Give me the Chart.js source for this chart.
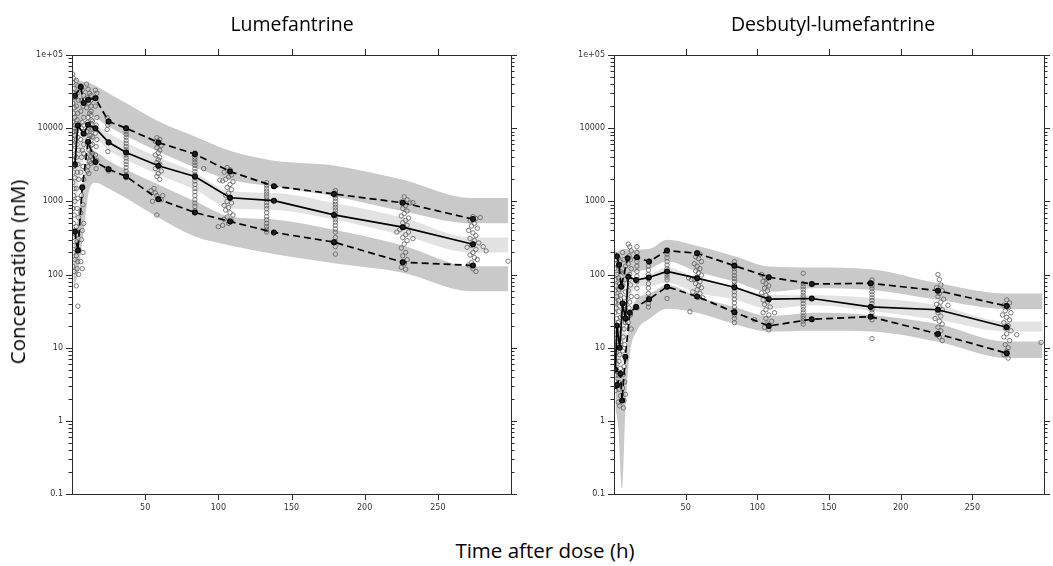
<!DOCTYPE html>
<html>
<head>
 <title>VPC lumefantrine / desbutyl-lumefantrine</title>
 <script src="https://cdn.jsdelivr.net/npm/chart.js"></script>
 <style>
  body { margin: 0; background: #fff; font-family: "Open Sans", sans-serif; }
  #wrap { position: relative; width: 1053px; height: 566px; overflow: hidden; }
  canvas { position: absolute; top: 0; }
  #c1 { left: 0; }
  #c2 { left: 542px; }
  .lbl { position: absolute; color: #000; white-space: nowrap; transform: translate(-50%, -50%); }
  .panel-title { font-size: 19.5px; top: 23px; }
  .axis-title { font-size: 20.5px; }
 </style>
</head>
<body>
<div id="wrap">
 <canvas id="c1" width="530" height="520"></canvas>
 <canvas id="c2" width="511" height="520"></canvas>
 <div class="lbl panel-title" style="left:292px">Lumefantrine</div>
 <div class="lbl panel-title" style="left:833px">Desbutyl-lumefantrine</div>
 <div class="lbl axis-title" style="left:545px; top:550px">Time after dose (h)</div>
 <div class="lbl axis-title" style="left:17px; top:272px; transform:translate(-50%,-50%) rotate(-90deg)">Concentration (nM)</div>
</div>

<script>
// axis labels
const xTickLabels = [50, 100, 150, 200, 250];
const yTickLabels = ['0.1', '1', '10', '100', '1000', '10000', '1e+05'];

// ---- Lumefantrine ----
// simulated prediction intervals (bands), per time
const lumeBandT   = [1, 4, 8, 12, 16, 25, 37, 59, 84, 108, 138, 179, 226, 273, 298];
const lumeUpperHi = [50000, 46000, 43000, 41000, 38000, 30000, 22000, 12400, 7700, 4900, 3600, 3100, 1970, 1107, 1107];
const lumeUpperLo = [6000, 9000, 13000, 15000, 14000, 10500, 7800, 4800, 2900, 1970, 1590, 1170, 730, 500, 500];
const lumeMedHi   = [2000, 5000, 8000, 10500, 10500, 8500, 6300, 4000, 2500, 1370, 1300, 950, 600, 320, 320];
const lumeMedLo   = [500, 1500, 4000, 7000, 7000, 5000, 3700, 2300, 1450, 800, 760, 565, 345, 200, 200];
const lumeLowerHi = [250, 600, 2000, 5000, 4800, 3600, 2700, 1700, 1000, 620, 565, 410, 250, 130, 130];
const lumeLowerLo = [70, 100, 400, 1500, 1800, 1500, 1100, 600, 330, 250, 190, 142, 106, 59, 59];

// observed percentiles
const lumeUpperT = [2, 6, 8, 11, 16, 25, 37, 59, 84, 108, 138, 179, 226, 274];
const lumeUpper  = [27700, 36500, 22000, 24500, 25700, 12350, 10000, 6370, 4430, 2560, 1610, 1260, 955, 572];
const lumeMedT   = [2, 4, 8, 11, 16, 25, 37, 59, 84, 108, 138, 179, 226, 274];
const lumeMed    = [3150, 10900, 8400, 11100, 10000, 6400, 4660, 3060, 2190, 1120, 1020, 653, 444, 259];
const lumeLowerT = [2, 4, 7, 11, 16, 25, 37, 59, 84, 108, 138, 179, 226, 274];
const lumeLower  = [383, 212, 1550, 6500, 3440, 2750, 2190, 1070, 703, 530, 376, 277, 147, 133];

// observations [time, conc]
const lumeObs = [
 [0.5,55000],[1,48000],[0.5,42000],[1.5,35000],[1,30000],[2,26000],[0.5,22000],[1.5,19000],[1,16000],[2,14000],
 [0.5,12000],[1.5,10000],[1,9000],[2,8000],[0.5,7000],[1.5,6000],[1,5000],[2,4200],[0.5,3600],[1.5,3000],
 [1,2500],[2,2100],[0.5,1800],[1.5,1500],[1,1200],[2,1000],[0.5,800],[1.5,650],[1,500],[2,400],
 [0.5,320],[1.5,250],[1,200],[2,160],[0.5,130],[1.5,110],[1,27000],[2,11000],[1,6500],[2,3300],
 [3,45000],[4,38000],[3.5,30000],[4.5,24000],[3,20000],[4,16000],[3.5,13000],[4.5,11000],[3,9000],[4,7500],
 [3.5,6000],[4.5,5000],[3,4000],[4,3200],[3.5,2500],[4.5,2000],[3,1500],[4,1100],[3.5,800],[4.5,600],
 [3,450],[4,350],[3.5,280],[4.5,220],[3,180],[4,150],[3.5,120],[4.5,100],[3,70],[4,37],
 [6,38000],[7,33000],[8,28000],[6.5,24000],[7.5,20000],[6,17000],[8,14000],[7,12000],[6.5,10000],[7.5,8500],
 [6,7000],[8,6000],[7,5000],[6.5,4000],[7.5,3000],[6,2500],[8,2000],[7,1600],[6.5,1200],[7.5,900],
 [6,700],[8,500],[7,400],[6.5,300],[7.5,200],[6,150],[7,120],[8,11000],[8,9000],[8,4500],
 [10,40000],[11,34000],[12,30000],[10.5,26000],[11.5,22000],[10,19000],[12,16000],[11,14000],[10.5,12000],[11.5,10000],
 [10,9000],[12,8000],[11,7000],[10.5,6000],[11.5,5000],[10,4000],[12,3500],[11,3000],[10.5,2600],[11.5,2400],
 [13,28000],[13,24000],[13,20000],[13,17000],[13,15000],[13,13000],[13,11500],[13,9500],[13,8000],[13,6800],
 [13,5800],[13,4800],[13,4100],[13,3300],[14,12500],[14,9800],[14,7600],[14,6000],[14,4500],[14,3800],
 [16,33000],[17,30000],[16.5,26000],[16,20000],[17,14000],[16.5,11000],[16,8500],[17,7000],[16.5,5600],[16,4300],
 [17,3600],[16.5,2800],
 [24,14000],[25,12500],[24.5,11000],[24,9600],[25,6300],[24.5,4800],[24,2800],[25,2600],
 [37,9800],[37,9000],[37,8200],[37,7500],[37,6800],[37,6200],[37,5600],[37,5100],[37,4700],[37,4300],
 [37,3900],[37,3500],[37,3200],[37,2900],[37,2600],[37,2300],[37,2100],
 [58,7400],[60,7000],[57,6600],[59,6200],[61,5800],[58,5400],[60,5000],[59,4600],[57,4300],[60,4000],
 [59,3700],[58,3400],[60,3200],[59,3000],[57,2800],[61,2600],[59,2400],[58,2200],[60,2000],[56,1500],
 [54,1400],[57,1300],[58,1200],[59,1100],[61,1050],[62,1200],[58,650],[55,1000],
 [84,4600],[84,4300],[84,4000],[84,3700],[84,3400],[84,3100],[84,2800],[84,2550],[84,2300],[84,2100],
 [84,1900],[84,1700],[84,1500],[84,1350],[84,1200],[84,1050],[84,950],[84,850],[84,750],[84,700],[90,2800],
 [106,2900],[108,2700],[104,2500],[109,2300],[107,2150],[105,2000],[110,1850],[103,1900],[101,1950],[108,1700],
 [106,1550],[109,1450],[107,1300],[105,1200],[108,1100],[106,1000],[109,950],[104,880],[107,820],[105,760],
 [108,700],[110,650],[106,610],[104,570],[109,540],[107,500],[103,470],[100,450],
 [133,1800],[133,1650],[133,1500],[133,1380],[133,1260],[133,1150],[133,1050],[133,960],[133,870],[133,790],
 [133,700],[133,620],[133,560],[133,500],[133,450],[133,410],[133,380],
 [180,1400],[180,1300],[180,1200],[180,1100],[180,1000],[180,910],[180,830],[180,760],[180,690],[180,630],
 [180,570],[180,520],[180,470],[180,420],[180,380],[180,320],[180,280],[180,240],[180,190],
 [227,1150],[229,1050],[225,980],[231,950],[228,880],[226,800],[229,740],[227,680],[225,630],[230,590],
 [228,550],[226,510],[229,470],[227,440],[224,410],[230,380],[228,350],[226,320],[229,290],[227,260],
 [225,230],[228,200],[226,180],[229,160],[227,140],[225,125],[228,118],[233,960],[233,310],[222,380],
 [274,620],[276,580],[272,540],[275,500],[273,460],[277,430],[271,400],[274,370],[276,340],[272,310],
 [275,290],[278,270],[273,250],[270,235],[276,220],[274,200],[272,185],[275,170],[277,160],[273,145],
 [271,135],[274,120],[276,110],[279,600],[281,240],[283,210],[298,152]
];

// ---- Desbutyl-lumefantrine ----
const desBandT   = [1, 3, 5.6, 8, 11, 16, 25, 37, 58, 84, 108, 140, 179, 226, 274, 299];
const desUpperHi = [190, 210, 220, 225, 217, 220, 225, 298, 245, 178, 129, 125, 118, 76, 55, 55];
const desUpperLo = [30, 40, 55, 70, 100, 110, 120, 150, 110, 80, 58, 65, 62, 45, 33.6, 33.6];
const desMedHi   = [15, 20, 25, 40, 75, 88, 100, 125, 89, 68, 53, 52, 48, 38, 22.7, 22.7];
const desMedLo   = [4, 6, 8, 15, 45, 66, 70, 77, 56, 46, 34, 38, 32, 24, 16.6, 16.6];
const desLowerHi = [6, 5, 4, 6, 25, 46, 55, 72, 50, 36, 27, 30, 28, 21, 12.1, 12.1];
const desLowerLo = [1.5, 0.8, 0.12, 1.5, 8, 17, 25, 34, 30, 21, 16.6, 17, 16.6, 12, 7.2, 7.2];

const desUpperT = [2, 3.5, 5, 9.5, 16, 24.5, 37, 58, 84, 108, 138, 179, 226, 274];
const desUpper  = [178, 136, 68, 167, 172, 150, 212, 195, 132, 92, 74, 76, 60, 37];
const desMedT   = [1, 2, 4, 6, 8, 10, 15.4, 24.3, 37, 58, 84, 108, 138, 179, 226, 274];
const desMed    = [5, 20, 10, 40, 25, 93, 84, 91, 110, 89, 67, 46, 47, 36, 33, 19];
const desLowerT = [1, 2.2, 4.5, 5.6, 7.9, 11, 15.4, 24.5, 37, 58, 84, 108, 138, 179, 226, 274];
const desLower  = [3, 3.1, 4.4, 1.9, 7.5, 30, 36, 46, 68, 50, 30.5, 19.8, 24.5, 26.5, 15.4, 8.4];

const desObs = [
 [0.5,190],[1,160],[1.5,140],[0.5,120],[2,100],[1,85],[1.5,70],[0.5,60],[2,50],[1,42],
 [1.5,35],[0.5,30],[2,25],[1,21],[1.5,18],[0.5,15],[2,12],[1,10],[1.5,8.5],[0.5,7],
 [2,6],[1,5],[1.5,4.2],[0.5,3.5],[2,3],[1,2.6],
 [3,170],[4,150],[3.5,130],[4.5,110],[3,90],[4,75],[3.5,62],[4.5,52],[3,44],[4,37],
 [3.5,31],[4.5,26],[3,22],[4,18],[3.5,15],[4.5,12],[3,10],[4,8],[3.5,6.5],[4.5,5.2],
 [3,4.2],[4,3.3],[3.5,2.7],[4.5,2.2],[3,1.8],[4,1.6],
 [6,200],[7,160],[8,130],[6.5,105],[7.5,85],[6,70],[8,58],[7,48],[6.5,40],[7.5,33],
 [6,27],[8,22],[7,18],[6.5,14],[7.5,11],[6,9],[8,7],[7,5.5],[6.5,4.3],[7.5,3.4],
 [6,2.8],[8,2.3],[7,1.9],[6.5,1.5],
 [10,260],[11,240],[12,210],[10.5,180],[11.5,160],[10,140],[12,120],[11,100],[10.5,85],[11.5,72],
 [10,60],[12,50],[11,42],[10.5,35],[11.5,28],[10,22],[12,18],
 [16,240],[16,200],[16,170],[16,150],[16,130],[16,110],[16,95],[16,80],[16,65],[16,50],[16,35],
 [24,150],[24,130],[24,115],[24,100],[24,88],[24,75],[24,65],[24,55],[24,47],[24,40],[24,36],
 [37,210],[37,190],[37,170],[37,150],[37,135],[37,120],[37,110],[37,100],[37,92],[37,85],[37,47],
 [58,200],[60,190],[57,175],[59,165],[61,150],[56,140],[58,130],[60,120],[57,112],[59,105],
 [61,98],[58,92],[56,86],[60,80],[57,75],[59,70],[61,66],[58,62],[55,58],[60,55],
 [57,52],[59,49],[62,48],[54,85],[52,90],[53,31],
 [84,150],[84,135],[84,120],[84,108],[84,97],[84,88],[84,80],[84,72],[84,65],[84,58],
 [84,52],[84,46],[84,41],[84,36],[84,32],[84,28],[84,25],[84,22],
 [103,100],[105,92],[107,88],[104,80],[106,75],[108,70],[105,65],[107,60],[103,56],[106,52],
 [108,48],[104,45],[107,42],[105,39],[109,36],[106,33],[104,30],[108,28],[106,25],[110,23],
 [107,21],[105,19],[108,17.5],[112,30],[98,24],
 [132,104],[132,75],[132,68],[132,62],[132,57],[132,52],[132,48],[132,44],[132,40],[132,36],
 [132,33],[132,30],[132,27],[132,25],[132,23],[132,21],
 [180,84],[180,76],[180,70],[180,64],[180,58],[180,53],[180,48],[180,44],[180,40],[180,36],
 [180,33],[180,30],[180,27],[180,24],[180,13.3],
 [226,100],[227,85],[228,72],[225,66],[229,60],[227,55],[226,50],[230,46],[228,42],[225,39],
 [227,36],[229,33],[226,30],[228,27],[224,25],[227,23],[229,21],[226,19],[228,17],[225,15],
 [227,14],[229,12.5],[233,38],
 [274,45],[276,41],[272,38],[275,35],[273,32],[277,30],[271,28],[274,26],[276,24],[272,22],
 [275,20],[273,18.5],[277,17],[274,15.5],[272,14],[276,12.5],[273,11],[275,10],[274,9],[272,8],
 [275,7.2],[281,15],[298,11.8]
];

const DARK = 'rgb(201,201,201)';
const LIGHT = 'rgb(226,226,226)';

const pts = (xs, ys) => xs.map((x, i) => ({ x: x, y: ys[i] }));

function band(xs, ys, fill, color) {
 return {
  data: pts(xs, ys), fill: fill, backgroundColor: color,
  borderWidth: 0, borderColor: 'rgba(0,0,0,0)', pointRadius: 0,
  cubicInterpolationMode: 'monotone', order: 3
 };
}

function pctLine(xs, ys, dashed) {
 return {
  data: pts(xs, ys), fill: false, borderColor: '#000', borderWidth: 1.7,
  borderDash: dashed ? [7, 4] : [], tension: 0,
  pointRadius: 2.4, pointBackgroundColor: '#222', pointBorderColor: '#000', pointBorderWidth: 1.2,
  order: 1
 };
}

// lattice-style box with outward ticks on all four sides
const latticeFrame = {
 id: 'latticeFrame',
 afterDraw(chart) {
  const { ctx, chartArea: a, scales: { x, y } } = chart;
  ctx.save();
  ctx.strokeStyle = '#2b2b2b';
  ctx.lineWidth = 1;
  ctx.strokeRect(Math.round(a.left) + 0.5, Math.round(a.top) + 0.5, Math.round(a.right - a.left), Math.round(a.bottom - a.top));
  ctx.beginPath();
  for (let k = -1; k <= 5; k++) {
   for (let m = 1; m <= 9; m++) {
    const v = m * Math.pow(10, k);
    if (v > 100000 * 1.0001) break;
    const py = Math.round(y.getPixelForValue(v)) + 0.5;
    const len = m === 1 ? 6 : 3.5;
    ctx.moveTo(a.left, py); ctx.lineTo(a.left - len, py);
    ctx.moveTo(a.right, py); ctx.lineTo(a.right + len, py);
   }
  }
  xTickLabels.forEach(v => {
   const px = Math.round(x.getPixelForValue(v)) + 0.5;
   ctx.moveTo(px, a.top); ctx.lineTo(px, a.top - 6);
   ctx.moveTo(px, a.bottom); ctx.lineTo(px, a.bottom + 6);
  });
  ctx.stroke();
  ctx.restore();
 }
};

const tickFont = { family: 'DejaVu Sans', size: 8 };

function makePanel(id, padRight, bandT, bands, lines, obs) {
 const datasets = [
  band(bandT, bands[0], '+1', DARK), band(bandT, bands[1], false, DARK),
  band(bandT, bands[2], '+1', LIGHT), band(bandT, bands[3], false, LIGHT),
  band(bandT, bands[4], '+1', DARK), band(bandT, bands[5], false, DARK),
  {
   data: obs.map(p => ({ x: p[0], y: p[1] })), showLine: false, fill: false,
   pointRadius: 2.2, pointBorderWidth: 0.8, pointBorderColor: '#5e5e5e',
   pointBackgroundColor: 'rgba(0,0,0,0)', order: 2
  },
  pctLine(lines[0], lines[1], true),
  pctLine(lines[2], lines[3], false),
  pctLine(lines[4], lines[5], true)
 ];
 return new Chart(document.getElementById(id), {
  type: 'line',
  data: { datasets: datasets },
  options: {
   responsive: false,
   animation: false,
   devicePixelRatio: 1,
   layout: { padding: { top: 55, left: 22, right: padRight, bottom: 6 } },
   plugins: { legend: { display: false }, tooltip: { enabled: false } },
   scales: {
    x: {
     type: 'linear', min: 0, max: 300,
     afterFit(s) { s.height = 20; },
     grid: { display: false, drawTicks: false },
     border: { display: false },
     ticks: {
      stepSize: 50, autoSkip: false, maxRotation: 0, padding: 9,
      color: '#333', font: tickFont,
      callback: v => xTickLabels.includes(v) ? String(v) : ''
     }
    },
    y: {
     type: 'logarithmic', min: 0.1, max: 100000,
     afterFit(s) { s.width = 50; },
     grid: { display: false, drawTicks: false },
     border: { display: false },
     ticks: {
      autoSkip: false, padding: 9, color: '#333', font: tickFont,
      callback: v => {
       const e = Math.log10(v);
       const k = Math.round(e);
       return Math.abs(e - k) < 1e-6 ? yTickLabels[k + 1] : '';
      }
     }
    }
   }
  },
  plugins: [latticeFrame]
 });
}

makePanel('c1', 19, lumeBandT,
 [lumeUpperHi, lumeUpperLo, lumeMedHi, lumeMedLo, lumeLowerHi, lumeLowerLo],
 [lumeUpperT, lumeUpper, lumeMedT, lumeMed, lumeLowerT, lumeLower],
 lumeObs);

makePanel('c2', 1, desBandT,
 [desUpperHi, desUpperLo, desMedHi, desMedLo, desLowerHi, desLowerLo],
 [desUpperT, desUpper, desMedT, desMed, desLowerT, desLower],
 desObs);
</script>
</body>
</html>
